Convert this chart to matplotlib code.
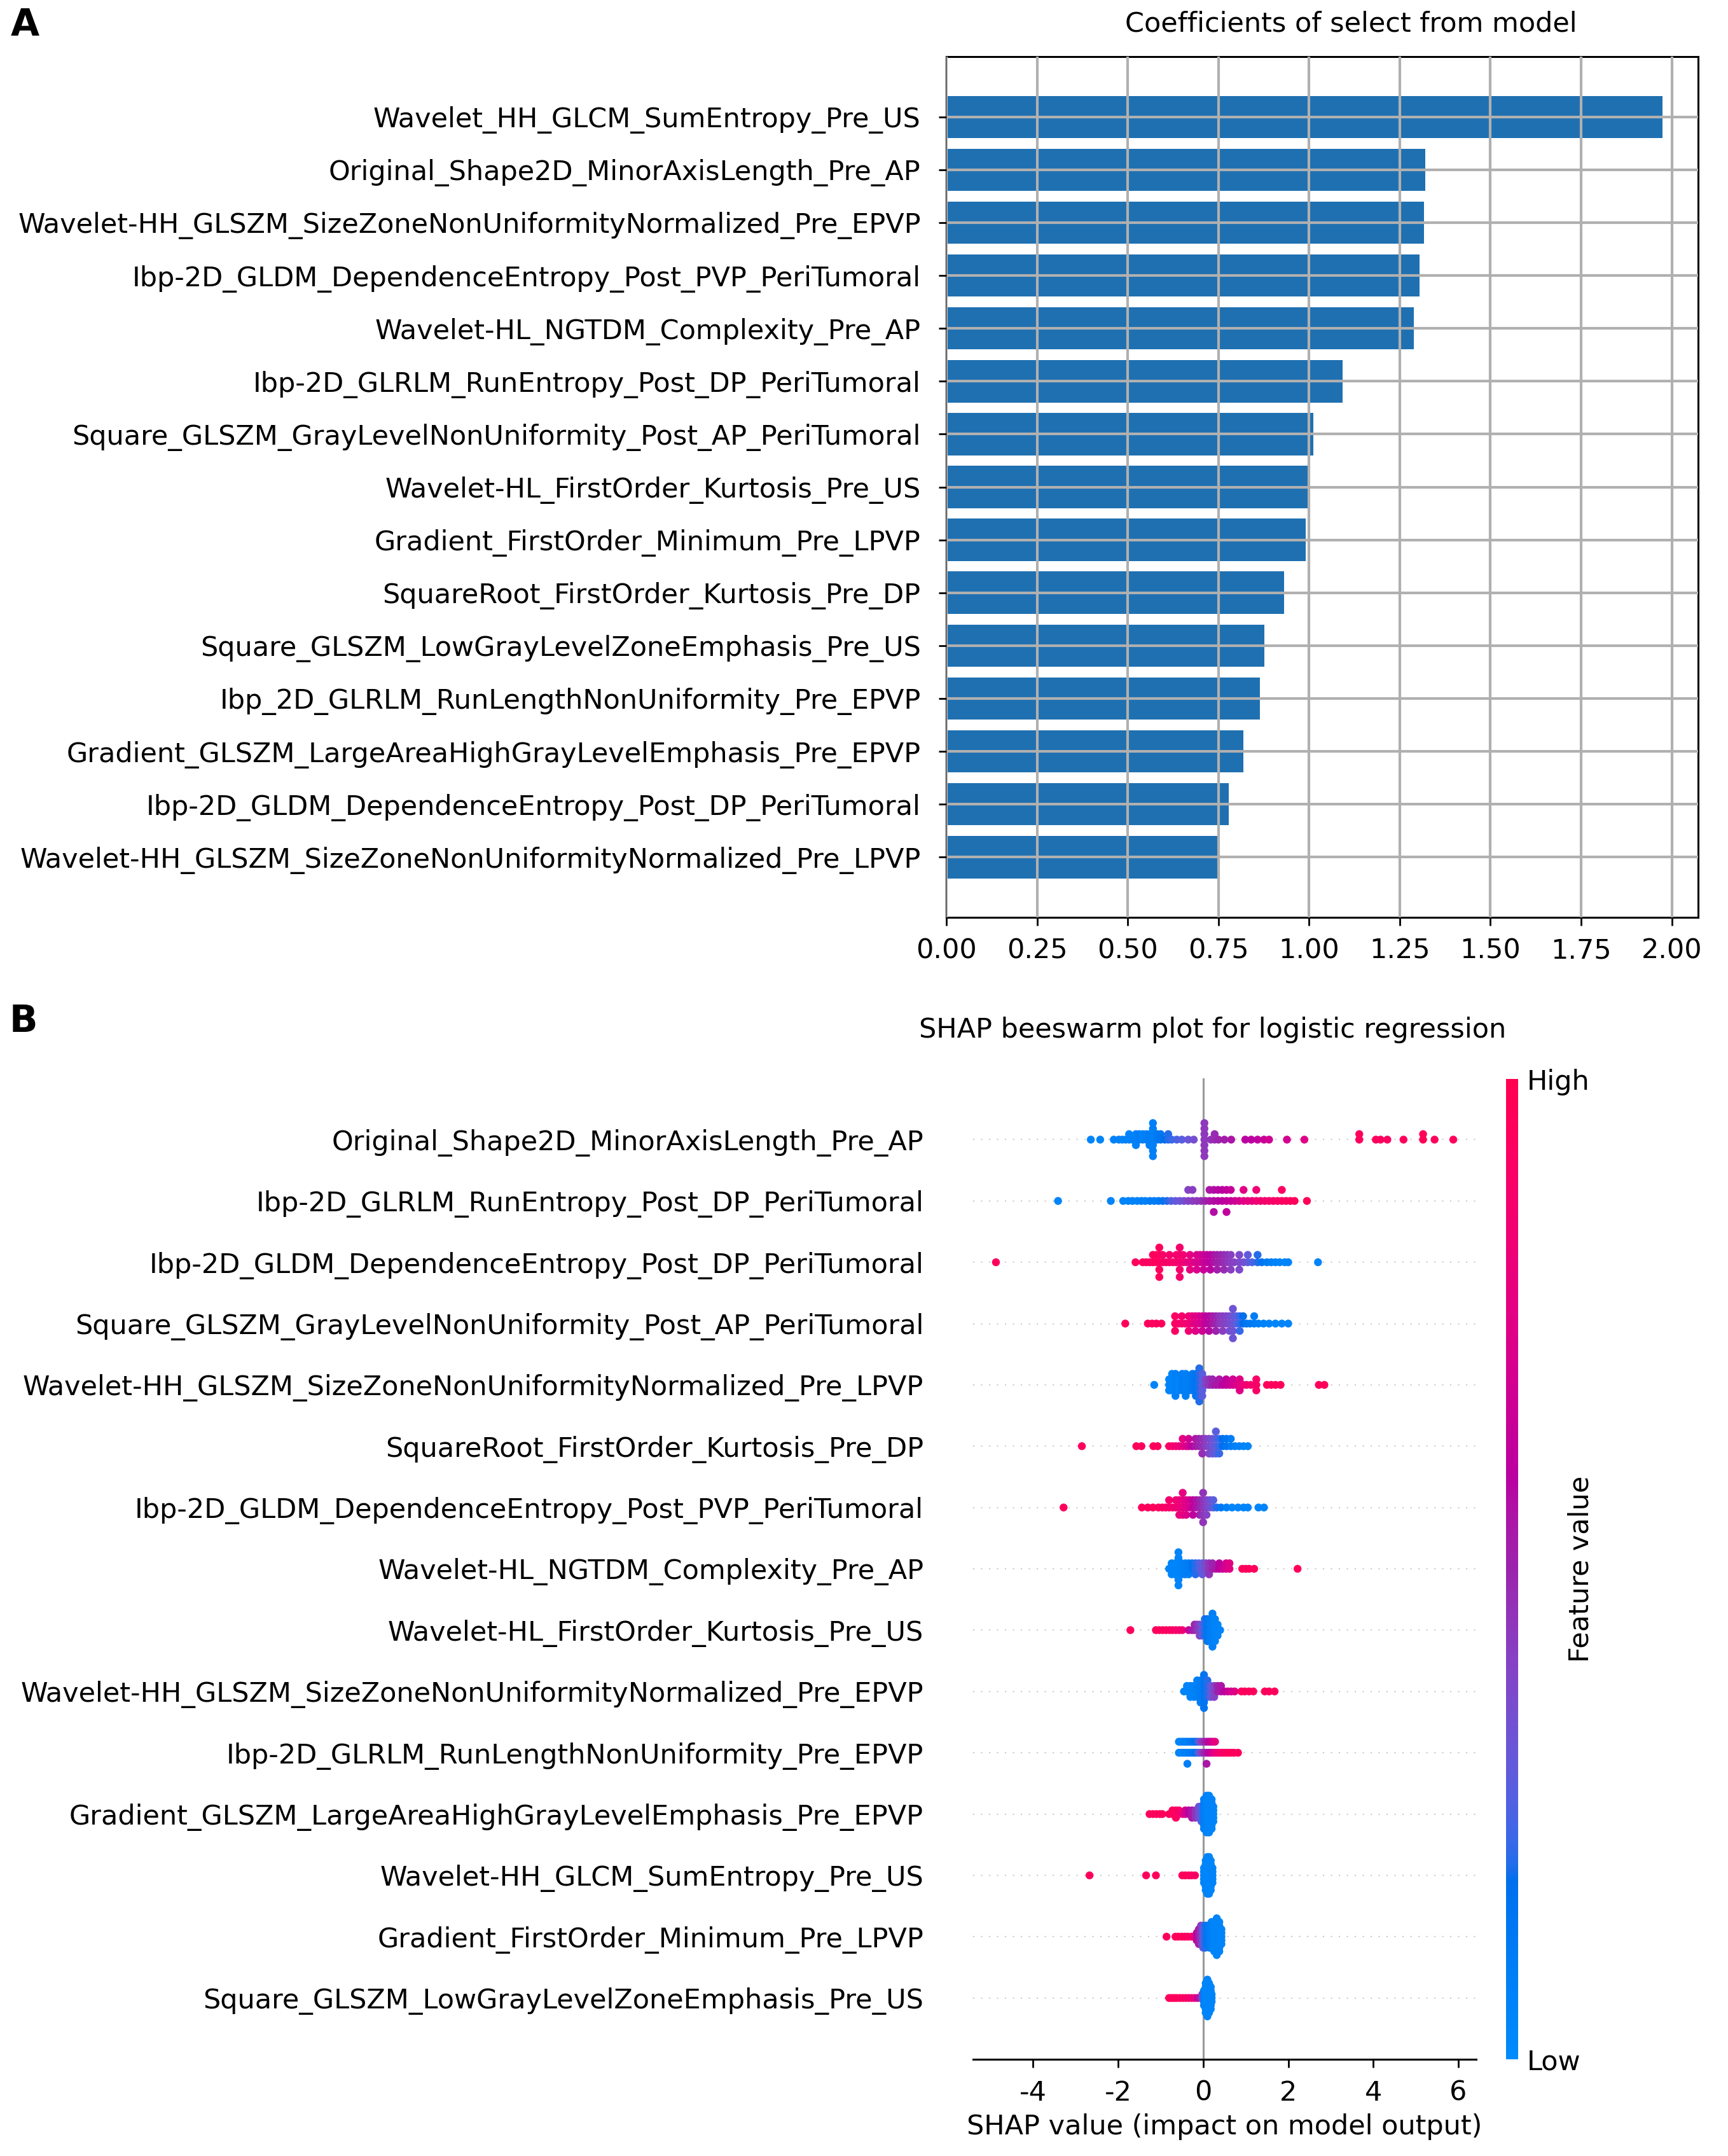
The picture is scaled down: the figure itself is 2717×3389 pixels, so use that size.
# -----------------------------------------------------------
# IMPORTS
# -----------------------------------------------------------
import numpy as np
import matplotlib
matplotlib.use("Agg")
import matplotlib.pyplot as plt
from matplotlib.colors import LinearSegmentedColormap, Normalize
from matplotlib.cm import ScalarMappable
from matplotlib.ticker import MultipleLocator, FormatStrFormatter

plt.rcParams["font.family"] = ["DejaVu Sans"]
plt.rcParams["font.size"] = 31
plt.rcParams["axes.unicode_minus"] = False

# -----------------------------------------------------------
# 1. DATA - panel A (coefficients, top bar first)
# -----------------------------------------------------------
coef_names = [
    "Wavelet_HH_GLCM_SumEntropy_Pre_US",
    "Original_Shape2D_MinorAxisLength_Pre_AP",
    "Wavelet-HH_GLSZM_SizeZoneNonUniformityNormalized_Pre_EPVP",
    "Ibp-2D_GLDM_DependenceEntropy_Post_PVP_PeriTumoral",
    "Wavelet-HL_NGTDM_Complexity_Pre_AP",
    "Ibp-2D_GLRLM_RunEntropy_Post_DP_PeriTumoral",
    "Square_GLSZM_GrayLevelNonUniformity_Post_AP_PeriTumoral",
    "Wavelet-HL_FirstOrder_Kurtosis_Pre_US",
    "Gradient_FirstOrder_Minimum_Pre_LPVP",
    "SquareRoot_FirstOrder_Kurtosis_Pre_DP",
    "Square_GLSZM_LowGrayLevelZoneEmphasis_Pre_US",
    "Ibp_2D_GLRLM_RunLengthNonUniformity_Pre_EPVP",
    "Gradient_GLSZM_LargeAreaHighGrayLevelEmphasis_Pre_EPVP",
    "Ibp-2D_GLDM_DependenceEntropy_Post_DP_PeriTumoral",
    "Wavelet-HH_GLSZM_SizeZoneNonUniformityNormalized_Pre_LPVP",
]
coef_values = [1.974, 1.320, 1.317, 1.304, 1.289, 1.093, 1.012, 0.996,
               0.990, 0.931, 0.876, 0.865, 0.819, 0.778, 0.752]

# -----------------------------------------------------------
# 2. DATA - panel B (SHAP beeswarm, top row first)
#    each row: (shap value, feature value 0..1, number of samples)
# -----------------------------------------------------------
shap_names = [
    "Original_Shape2D_MinorAxisLength_Pre_AP",
    "Ibp-2D_GLRLM_RunEntropy_Post_DP_PeriTumoral",
    "Ibp-2D_GLDM_DependenceEntropy_Post_DP_PeriTumoral",
    "Square_GLSZM_GrayLevelNonUniformity_Post_AP_PeriTumoral",
    "Wavelet-HH_GLSZM_SizeZoneNonUniformityNormalized_Pre_LPVP",
    "SquareRoot_FirstOrder_Kurtosis_Pre_DP",
    "Ibp-2D_GLDM_DependenceEntropy_Post_PVP_PeriTumoral",
    "Wavelet-HL_NGTDM_Complexity_Pre_AP",
    "Wavelet-HL_FirstOrder_Kurtosis_Pre_US",
    "Wavelet-HH_GLSZM_SizeZoneNonUniformityNormalized_Pre_EPVP",
    "Ibp-2D_GLRLM_RunLengthNonUniformity_Pre_EPVP",
    "Gradient_GLSZM_LargeAreaHighGrayLevelEmphasis_Pre_EPVP",
    "Wavelet-HH_GLCM_SumEntropy_Pre_US",
    "Gradient_FirstOrder_Minimum_Pre_LPVP",
    "Square_GLSZM_LowGrayLevelZoneEmphasis_Pre_US",
]

r01 = [(-2.64, .05, 1), (-2.42, .05, 1), (-2.10, .06, 1), (-1.98, .08, 1), (-1.90, .05, 1),
       (-1.82, .07, 1), (-1.74, .05, 2), (-1.66, .08, 1), (-1.58, .06, 2), (-1.50, .10, 2),
       (-1.42, .06, 2), (-1.34, .08, 2), (-1.26, .10, 3), (-1.18, .08, 7), (-1.08, .12, 2),
       (-1.00, .15, 2), (-0.90, .18, 1), (-0.82, .20, 2), (-0.74, .22, 1), (-0.62, .25, 1),
       (-0.50, .28, 1), (-0.35, .32, 1), (-0.22, .35, 1), (0.03, .44, 7), (0.18, .45, 1),
       (0.27, .48, 2), (0.36, .50, 1), (0.50, .52, 1), (0.66, .55, 1), (0.99, .60, 1),
       (1.13, .60, 1), (1.28, .62, 1), (1.43, .65, 1), (1.55, .68, 1), (1.97, .70, 1),
       (2.38, .75, 1), (3.67, .95, 2), (4.06, .95, 1), (4.17, .95, 1), (4.33, .93, 1),
       (4.71, .95, 1), (5.17, .97, 2), (5.44, .95, 1), (5.88, .96, 1)]
r02 = [(-3.41, .05, 1), (-2.17, .05, 1), (-1.88, .05, 1), (-1.76, .05, 1), (-1.66, .06, 1),
       (-1.55, .05, 1), (-1.45, .08, 1), (-1.36, .06, 1), (-1.25, .10, 1), (-1.15, .10, 1),
       (-1.05, .12, 1), (-0.95, .15, 1), (-0.85, .20, 1), (-0.75, .25, 1), (-0.65, .30, 1),
       (-0.55, .32, 1), (-0.45, .35, 1), (-0.35, .40, 2), (-0.25, .42, 2), (-0.15, .44, 1),
       (-0.05, .46, 1), (0.05, .50, 1), (0.15, .55, 2), (0.25, .57, 3), (0.35, .58, 2),
       (0.45, .60, 2), (0.55, .62, 3), (0.65, .64, 2), (0.75, .67, 1), (0.85, .70, 1),
       (0.95, .76, 2), (1.05, .78, 1), (1.15, .80, 1), (1.25, .84, 2), (1.35, .85, 1),
       (1.45, .87, 1), (1.55, .88, 1), (1.65, .90, 1), (1.75, .90, 1), (1.85, .93, 2),
       (1.95, .93, 1), (2.05, .95, 1), (2.15, .95, 1), (2.44, .97, 1)]
r03 = [(-4.87, .95, 1), (-1.59, .95, 1), (-1.42, .95, 1), (-1.34, .92, 1), (-1.26, .95, 1),
       (-1.18, .93, 2), (-1.10, .95, 2), (-1.03, .95, 5), (-0.95, .90, 2), (-0.87, .92, 1),
       (-0.79, .88, 2), (-0.71, .90, 1), (-0.63, .86, 2), (-0.55, .88, 5), (-0.47, .85, 2),
       (-0.39, .80, 1), (-0.31, .78, 3), (-0.23, .75, 1), (-0.15, .72, 3), (-0.07, .70, 2),
       (0.01, .66, 3), (0.09, .62, 2), (0.17, .60, 3), (0.25, .56, 2), (0.33, .52, 3),
       (0.41, .50, 2), (0.49, .48, 3), (0.57, .45, 2), (0.65, .42, 3), (0.73, .40, 1),
       (0.85, .38, 3), (0.95, .35, 1), (1.05, .30, 2), (1.15, .25, 1), (1.28, .20, 2),
       (1.38, .15, 1), (1.50, .10, 1), (1.60, .08, 1), (1.70, .06, 1), (1.80, .05, 1),
       (1.92, .05, 1), (2.00, .05, 1), (2.70, .05, 1)]
r04 = [(-1.83, .95, 1), (-1.30, .95, 1), (-1.20, .95, 1), (-1.10, .93, 1), (-0.98, .95, 1),
       (-0.66, .92, 3), (-0.58, .90, 1), (-0.50, .88, 2), (-0.42, .86, 1), (-0.34, .85, 3),
       (-0.26, .80, 2), (-0.18, .75, 3), (-0.10, .72, 2), (-0.02, .68, 3), (0.06, .62, 2),
       (0.14, .58, 3), (0.22, .55, 2), (0.30, .50, 3), (0.38, .45, 2), (0.46, .42, 3),
       (0.54, .40, 2), (0.62, .36, 3), (0.70, .33, 5), (0.78, .28, 2), (0.86, .22, 3),
       (0.94, .18, 2), (1.02, .15, 1), (1.10, .12, 1), (1.20, .10, 2), (1.30, .08, 1),
       (1.42, .06, 1), (1.55, .05, 1), (1.70, .05, 1), (1.85, .05, 1), (2.00, .05, 1)]
r05 = [(-1.15, .05, 1), (-0.80, .05, 3), (-0.73, .05, 4), (-0.65, .08, 5), (-0.57, .05, 3),
       (-0.49, .10, 4), (-0.41, .08, 5), (-0.33, .10, 3), (-0.25, .12, 4), (-0.17, .15, 5),
       (-0.09, .20, 7), (-0.02, .28, 5), (0.06, .40, 2), (0.14, .45, 2), (0.22, .50, 2),
       (0.30, .55, 1), (0.38, .55, 2), (0.46, .60, 1), (0.54, .62, 2), (0.62, .65, 1),
       (0.70, .68, 2), (0.78, .72, 1), (0.86, .75, 3), (0.94, .82, 1), (1.02, .85, 1),
       (1.12, .88, 1), (1.25, .90, 3), (1.50, .95, 1), (1.60, .95, 1), (1.70, .95, 1),
       (1.82, .95, 1), (2.72, .95, 1), (2.85, .95, 1)]
r06 = [(-2.85, .95, 1), (-1.57, .95, 1), (-1.45, .95, 1), (-1.17, .95, 1), (-1.07, .95, 1),
       (-0.80, .90, 1), (-0.72, .88, 1), (-0.64, .85, 1), (-0.56, .82, 1), (-0.48, .78, 2),
       (-0.40, .72, 1), (-0.34, .68, 2), (-0.26, .60, 1), (-0.18, .55, 2), (-0.10, .50, 2),
       (-0.02, .47, 3), (0.06, .42, 2), (0.14, .38, 3), (0.22, .33, 3), (0.30, .28, 4),
       (0.38, .22, 3), (0.46, .18, 2), (0.55, .14, 2), (0.65, .10, 2), (0.75, .08, 1),
       (0.85, .06, 1), (0.95, .05, 1), (1.05, .05, 1)]
r07 = [(-3.28, .95, 1), (-1.44, .95, 1), (-1.30, .95, 1), (-1.18, .95, 1), (-1.05, .95, 1),
       (-0.96, .92, 1), (-0.88, .90, 1), (-0.80, .88, 2), (-0.72, .86, 1), (-0.64, .84, 2),
       (-0.56, .82, 3), (-0.48, .78, 4), (-0.40, .74, 3), (-0.32, .70, 2), (-0.24, .62, 3),
       (-0.16, .56, 2), (-0.08, .50, 3), (0.00, .45, 5), (0.08, .40, 3), (0.16, .35, 2),
       (0.24, .28, 2), (0.32, .20, 1), (0.42, .12, 1), (0.55, .08, 1), (0.68, .05, 1),
       (0.82, .05, 1), (0.95, .05, 1), (1.05, .05, 1), (1.30, .05, 1), (1.43, .05, 1)]
r08 = [(-0.80, .05, 1), (-0.74, .05, 3), (-0.66, .05, 3), (-0.58, .05, 7), (-0.50, .06, 3),
       (-0.42, .08, 3), (-0.34, .10, 3), (-0.26, .15, 2), (-0.18, .20, 3), (-0.10, .25, 2),
       (-0.02, .30, 3), (0.06, .38, 2), (0.14, .45, 3), (0.22, .50, 2), (0.30, .55, 1),
       (0.38, .60, 2), (0.46, .65, 1), (0.54, .70, 2), (0.62, .75, 2), (0.92, .95, 1),
       (1.00, .95, 1), (1.08, .95, 1), (1.20, .95, 1), (2.22, .95, 1)]
r09 = [(-1.71, .95, 1), (-1.11, .95, 1), (-1.03, .95, 1), (-0.95, .95, 1), (-0.87, .93, 1),
       (-0.79, .92, 1), (-0.72, .90, 1), (-0.64, .90, 1), (-0.56, .88, 1), (-0.49, .85, 1),
       (-0.34, .65, 1), (-0.26, .55, 1), (-0.20, .50, 2), (-0.14, .45, 2), (-0.08, .40, 3),
       (-0.02, .30, 3), (0.04, .20, 4), (0.10, .15, 5), (0.16, .10, 5), (0.22, .08, 7),
       (0.28, .06, 5), (0.34, .05, 3), (0.40, .05, 1)]
r10 = [(-0.45, .05, 1), (-0.38, .05, 2), (-0.30, .05, 3), (-0.22, .06, 3), (-0.14, .08, 4),
       (-0.06, .10, 5), (0.02, .15, 7), (0.10, .20, 4), (0.18, .30, 3), (0.26, .40, 3),
       (0.34, .50, 2), (0.42, .55, 2), (0.50, .60, 1), (0.58, .65, 1), (0.66, .70, 1),
       (0.74, .75, 1), (0.90, .95, 1), (0.98, .95, 1), (1.08, .95, 1), (1.18, .95, 1),
       (1.45, .95, 1), (1.55, .95, 1), (1.68, .95, 1)]
r11 = [(-0.57, .05, 2), (-0.52, .05, 2), (-0.47, .06, 2), (-0.42, .08, 2), (-0.37, .08, 3),
       (-0.32, .10, 2), (-0.27, .12, 2), (-0.22, .15, 2), (-0.17, .18, 2), (-0.12, .22, 2),
       (-0.07, .35, 2), (-0.02, .42, 2), (0.03, .48, 2), (0.08, .55, 3), (0.13, .58, 2),
       (0.18, .62, 2), (0.23, .72, 2), (0.28, .78, 2), (0.33, .82, 1), (0.38, .85, 1),
       (0.43, .88, 1), (0.48, .90, 1), (0.53, .92, 1), (0.58, .93, 1), (0.63, .95, 1),
       (0.68, .95, 1), (0.73, .95, 1), (0.82, .95, 1)]
r12 = [(-1.26, .95, 1), (-1.18, .95, 1), (-1.10, .95, 1), (-1.02, .95, 1), (-0.96, .95, 1),
       (-0.80, .95, 1), (-0.72, .95, 2), (-0.64, .93, 3), (-0.57, .90, 2), (-0.48, .80, 1),
       (-0.42, .70, 2), (-0.34, .60, 2), (-0.26, .55, 3), (-0.18, .45, 3), (-0.10, .35, 4),
       (-0.04, .25, 5), (0.02, .10, 9), (0.08, .06, 11), (0.14, .05, 11), (0.20, .05, 9),
       (0.24, .05, 5)]
r13 = [(-2.67, .95, 1), (-1.34, .95, 1), (-1.11, .95, 1), (-0.49, .95, 1), (-0.42, .95, 1),
       (-0.34, .95, 1), (-0.27, .93, 1), (-0.19, .90, 1), (0.02, .05, 5), (0.06, .05, 9),
       (0.10, .05, 11), (0.14, .05, 11), (0.18, .05, 9), (0.22, .05, 5)]
r14 = [(-0.86, .95, 1), (-0.65, .95, 1), (-0.58, .95, 1), (-0.50, .95, 1), (-0.43, .95, 1),
       (-0.36, .93, 1), (-0.28, .90, 1), (-0.22, .85, 1), (-0.15, .60, 3), (-0.10, .55, 5),
       (-0.05, .45, 6), (0.00, .30, 7), (0.05, .20, 7), (0.10, .15, 6), (0.15, .10, 7),
       (0.20, .08, 8), (0.26, .05, 9), (0.32, .05, 11), (0.38, .05, 9), (0.43, .05, 5)]
r15 = [(-0.80, .95, 1), (-0.74, .95, 1), (-0.68, .95, 1), (-0.62, .95, 1), (-0.55, .95, 1),
       (-0.48, .93, 1), (-0.41, .90, 1), (-0.34, .88, 1), (-0.27, .85, 1), (-0.20, .80, 1),
       (-0.13, .65, 1), (-0.06, .50, 1), (-0.02, .40, 2), (0.02, .10, 5), (0.06, .05, 9),
       (0.10, .05, 11), (0.14, .05, 9), (0.18, .05, 7), (0.20, .05, 3)]

shap_rows = [r01, r02, r03, r04, r05, r06, r07, r08, r09, r10, r11, r12, r13, r14, r15]

# -----------------------------------------------------------
# 3. HELPERS - shap style colormap and beeswarm offsets
# -----------------------------------------------------------
def lch_to_rgb(l, c, h):
    a, b = c * np.cos(h), c * np.sin(h)
    fy = (l + 16) / 116
    fx = fy + a / 500
    fz = fy - b / 200

    def finv(t):
        return np.where(t ** 3 > 0.008856, t ** 3, (t - 16 / 116) / 7.787)

    X, Y, Z = 0.95047 * finv(fx), finv(fy), 1.08883 * finv(fz)
    rgb = np.array([3.2406 * X - 1.5372 * Y - 0.4986 * Z,
                    -0.9689 * X + 1.8758 * Y + 0.0415 * Z,
                    0.0557 * X - 0.2040 * Y + 1.0570 * Z])
    rgb = np.where(rgb > 0.0031308, 1.055 * np.abs(rgb) ** (1 / 2.4) - 0.055, 12.92 * rgb)
    return np.clip(rgb, 0, 1)


l_vals = list(np.linspace(54., 40., 50)) + list(np.linspace(40., 54., 50))
c_vals = np.linspace(70., 90., 100)
h_vals = np.linspace(4.6588, 0.35470565 + 2 * np.pi, 100)
red_blue = LinearSegmentedColormap.from_list(
    "red_blue", [lch_to_rgb(l, c, h) for l, c, h in zip(l_vals, c_vals, h_vals)])


def swarm_offsets(vals, nbins=100, row_height=0.4):
    vals = np.asarray(vals, dtype=float)
    quant = np.round(nbins * (vals - vals.min()) / (vals.max() - vals.min() + 1e-8))
    inds = np.argsort(quant, kind="stable")
    layer, last_bin = 0, -1
    ys = np.zeros(len(vals))
    for ind in inds:
        if quant[ind] != last_bin:
            layer = 0
        ys[ind] = np.ceil(layer / 2) * ((layer % 2) * 2 - 1)
        layer += 1
        last_bin = quant[ind]
    ys *= 0.9 * (row_height / np.max(ys + 1))
    return ys


# -----------------------------------------------------------
# 4. FIGURE
# -----------------------------------------------------------
W, H = 2717, 3389
fig = plt.figure(figsize=(W / 100, H / 100), dpi=100)

# ---------------- panel A ----------------
axA = fig.add_axes([1488 / W, 1 - 1442 / H, (2670 - 1488) / W, (1442 - 89) / H])
ypos = np.arange(len(coef_names))[::-1]
axA.barh(ypos, coef_values, height=0.8, color="#1f70b1")
axA.set_yticks(ypos)
axA.set_yticklabels(coef_names)
axA.xaxis.set_major_locator(MultipleLocator(0.25))
axA.xaxis.set_major_formatter(FormatStrFormatter("%.2f"))
axA.grid(True, color="#b0b0b0", linewidth=3)
axA.set_axisbelow(False)
for sp in axA.spines.values():
    sp.set_linewidth(2.2)
axA.tick_params(axis="y", length=9, width=2, pad=20)
axA.tick_params(axis="x", length=9, width=2, pad=14)

fig.text(2124 / W, 1 - 38 / H, "Coefficients of select from model", ha="center", va="center")
fig.text(39 / W, 1 - 39 / H, "A", ha="center", va="center", fontsize=42, fontweight="bold")

# ---------------- panel B ----------------
axB = fig.add_axes([1530 / W, 1 - 3237 / H, (2321 - 1530) / W, (3237 - 1695) / H])
n_rows = len(shap_names)
for k, row in enumerate(shap_rows):
    pos = n_rows - 1 - k
    sv = np.repeat([p[0] for p in row], [p[2] for p in row])
    fv = np.repeat([p[1] for p in row], [p[2] for p in row])
    axB.axhline(pos, color="#cccccc", lw=1.5, dashes=(1, 5), zorder=-1)
    axB.scatter(sv, pos + swarm_offsets(sv), c=fv, cmap=red_blue, vmin=0, vmax=1,
                s=80, linewidths=0, zorder=3, rasterized=True)

axB.axvline(0, color="#999999", lw=2.2, zorder=-1)
axB.set_ylim(-1, n_rows)
axB.set_yticks(np.arange(n_rows)[::-1])
axB.set_yticklabels(shap_names)
axB.set_xticks([-4, -2, 0, 2, 4, 6])
for side in ["left", "top", "right"]:
    axB.spines[side].set_visible(False)
axB.spines["bottom"].set_linewidth(2.2)
axB.tick_params(axis="y", length=0, pad=56)
axB.tick_params(axis="x", length=9, width=2, pad=14)
axB.set_xlabel("SHAP value (impact on model output)", labelpad=8)

fig.text(1907 / W, 1 - 1619 / H, "SHAP beeswarm plot for logistic regression", ha="center", va="center")
fig.text(37 / W, 1 - 1606 / H, "B", ha="center", va="center", fontsize=42, fontweight="bold")

# colorbar
cax = fig.add_axes([2368 / W, 1 - 3237 / H, 19 / W, (3237 - 1696) / H])
cb = fig.colorbar(ScalarMappable(norm=Normalize(0, 1), cmap=red_blue), cax=cax, ticks=[0, 1])
cb.set_ticklabels(["Low", "High"])
cb.outline.set_visible(False)
cax.tick_params(length=0, pad=10)
fig.text(2485 / W, 1 - 2466 / H, "Feature value", rotation=90, ha="center", va="center")

fig.savefig("out.png", dpi=100)
